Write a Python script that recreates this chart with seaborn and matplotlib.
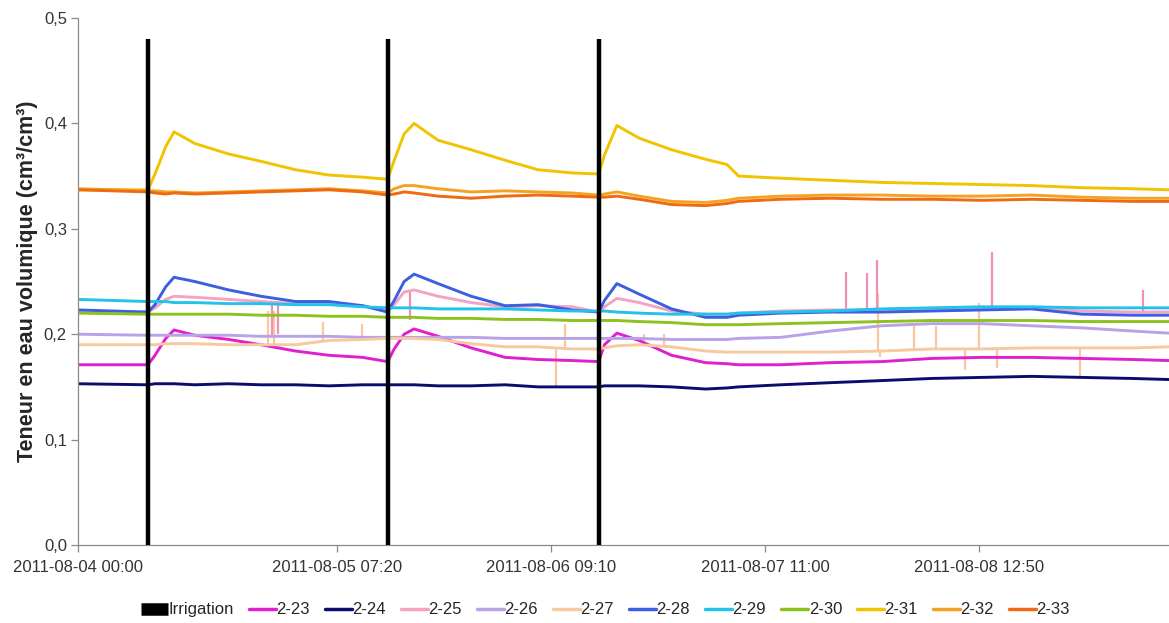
import seaborn as sns
import matplotlib.pyplot as plt
from matplotlib.lines import Line2D
import numpy as np
import pandas as pd

# hours since 2011-08-04 00:00
hours = [0, 8.45, 9.3, 10.6, 11.6, 14.1, 18.2, 22.1, 26.3, 30.3, 34.4,
         37.4, 38.2, 39.4, 40.6, 43.5, 47.5, 51.6, 55.6, 59.7,
         62.9, 63.6, 65.1, 67.8, 71.7, 75.8, 78.4, 79.8, 84.9, 90.9,
         97.1, 103.1, 109.2, 115.2, 121.3, 127.4, 131.8]

s_223 = [.171, .171, .180, .196, .204, .199, .195, .190, .184, .180, .178,
         .174, .186, .200, .205, .198, .187, .178, .176, .175,
         .174, .190, .201, .194, .180, .173, .172, .171, .171, .173,
         .174, .177, .178, .178, .177, .176, .175]
s_224 = [.153, .152, .153, .153, .153, .152, .153, .152, .152, .151, .152,
         .152, .152, .152, .152, .151, .151, .152, .150, .150,
         .150, .151, .151, .151, .150, .148, .149, .150, .152, .154,
         .156, .158, .159, .160, .159, .158, .157]
s_225 = [.221, .221, .225, .233, .236, .235, .233, .231, .229, .229, .227,
         .222, .228, .240, .242, .236, .230, .226, .227, .226,
         .221, .226, .234, .230, .222, .219, .219, .220, .222, .223,
         .223, .224, .224, .225, .222, .221, .221]
s_226 = [.200, .199, .199, .199, .199, .199, .199, .198, .198, .198, .197,
         .197, .197, .197, .197, .197, .197, .196, .196, .196,
         .196, .196, .196, .196, .195, .195, .195, .196, .197, .203,
         .208, .210, .210, .208, .206, .203, .201]
s_227 = [.190, .190, .190, .191, .191, .191, .190, .190, .190, .194, .195,
         .196, .196, .196, .196, .195, .191, .188, .188, .186,
         .186, .187, .189, .190, .188, .184, .183, .183, .183, .183,
         .184, .186, .186, .187, .187, .187, .188]
s_228 = [.223, .221, .228, .245, .254, .250, .242, .236, .231, .231, .227,
         .221, .232, .250, .257, .248, .236, .227, .228, .223,
         .221, .232, .248, .238, .224, .216, .216, .218, .220, .221,
         .221, .222, .223, .224, .219, .218, .218]
s_229 = [.233, .231, .231, .231, .230, .230, .229, .229, .228, .228, .226,
         .225, .225, .225, .225, .224, .224, .224, .223, .222,
         .222, .222, .221, .220, .219, .219, .219, .220, .221, .222,
         .224, .225, .226, .226, .225, .225, .225]
s_230 = [.220, .219, .219, .219, .219, .219, .219, .218, .218, .217, .217,
         .216, .216, .216, .216, .215, .215, .214, .214, .213,
         .213, .213, .213, .212, .211, .209, .209, .209, .210, .211,
         .212, .213, .213, .213, .212, .212, .212]
s_231 = [.337, .337, .352, .378, .392, .381, .371, .364, .356, .351, .349,
         .347, .365, .390, .400, .384, .375, .365, .356, .353,
         .352, .370, .398, .386, .375, .366, .361, .350, .348, .346,
         .344, .343, .342, .341, .339, .338, .337]
s_232 = [.338, .336, .336, .335, .335, .334, .335, .336, .337, .338, .336,
         .334, .338, .341, .341, .338, .335, .336, .335, .334,
         .332, .333, .335, .331, .326, .325, .327, .329, .331, .332,
         .332, .331, .331, .332, .330, .329, .329]
s_233 = [.337, .335, .334, .333, .334, .333, .334, .335, .336, .337, .335,
         .332, .333, .335, .334, .331, .329, .331, .332, .331,
         .330, .330, .331, .328, .323, .322, .324, .326, .328, .329,
         .328, .328, .327, .328, .327, .326, .326]

# isolated spikes: time (h), base value, tip value
spk225_t = [23.4, 24.2, 40.1, 92.8, 95.3, 96.5, 110.4, 128.6]
spk225_lo = [.231, .231, .242, .223, .223, .223, .224, .221]
spk225_hi = [.197, .200, .213, .259, .258, .270, .278, .242]
spk227_t = [22.9, 23.7, 29.6, 34.3, 57.7, 58.8, 68.4, 70.8, 96.7, 96.9,
            101.0, 103.7, 107.1, 108.9, 111.0, 121.1]
spk227_lo = [.190, .190, .194, .195, .188, .187, .190, .189, .184, .184,
             .185, .186, .186, .186, .186, .187]
spk227_hi = [.222, .222, .212, .210, .150, .210, .200, .200, .239, .178,
             .209, .208, .166, .230, .168, .159]

irrig_h = [8.45, 37.4, 62.9]
irrig_top = 0.48

names = ['2-23', '2-24', '2-25', '2-26', '2-27', '2-28',
         '2-29', '2-30', '2-31', '2-32', '2-33']
series = [s_223, s_224, s_225, s_226, s_227, s_228,
          s_229, s_230, s_231, s_232, s_233]
colors = ['#e01fcf', '#0c0c6e', '#f4a3c4', '#b9a2e6', '#f8c89e', '#3b5fe0',
          '#22c3e8', '#8cc21e', '#f0c400', '#f5a223', '#ef6a12']
palette = dict(zip(names, colors))

tick_labels = ['2011-08-04 00:00', '2011-08-05 07:20', '2011-08-06 09:10',
               '2011-08-07 11:00', '2011-08-08 12:50']

start = pd.Timestamp('2011-08-04 00:00')
times = start + pd.to_timedelta(hours, unit='h')

df = pd.concat([pd.DataFrame({'time': times, 'value': v, 'series': n})
                for n, v in zip(names, series)], ignore_index=True)

sns.set_style('white')
plt.rcParams['font.family'] = ['Liberation Sans', 'DejaVu Sans']

fig = plt.figure(figsize=(11.69, 6.23), dpi=100)
ax = fig.add_axes([78 / 1169, 78 / 623, 1 - 78 / 1169, (545 - 18) / 623])

sns.lineplot(data=df, x='time', y='value', hue='series', hue_order=names,
             palette=palette, linewidth=2.1, legend=False, ax=ax,
             estimator=None, sort=True)

ax.vlines(start + pd.to_timedelta(spk227_t, unit='h'), spk227_lo, spk227_hi,
          color=palette['2-27'], lw=1.6, zorder=1.5)
ax.vlines(start + pd.to_timedelta(spk225_t, unit='h'), spk225_lo, spk225_hi,
          color='#f090b8', lw=1.6, zorder=1.5)

ax.vlines(start + pd.to_timedelta(irrig_h, unit='h'), 0, irrig_top,
          color='black', lw=3.2, zorder=5)

ax.set_xlim(start, start + pd.Timedelta(hours=131.8))
ax.set_ylim(0, 0.5)
ax.set_yticks(np.arange(0, 0.51, 0.1))
ax.set_yticklabels([f'{v:.1f}'.replace('.', ',') for v in np.arange(0, 0.51, 0.1)])
ax.set_xticks(pd.to_datetime(tick_labels))
ax.set_xticklabels(tick_labels)

for side in ['top', 'right']:
    ax.spines[side].set_visible(False)
for side in ['left', 'bottom']:
    ax.spines[side].set_color('#8a8a8a')
    ax.spines[side].set_linewidth(0.9)
ax.tick_params(axis='y', direction='out', length=5, width=0.9, color='#8a8a8a',
               labelsize=12, pad=3, left=True, labelcolor='#333333')
ax.tick_params(axis='x', direction='out', length=5, width=0.9, color='#8a8a8a',
               labelsize=12, pad=6, bottom=True, labelcolor='#333333')

ax.set_xlabel('')
ax.set_ylabel('Teneur en eau volumique (cm³/cm³)', fontsize=15.5,
              fontweight='bold', labelpad=4)

handles = [Line2D([], [], color='black', lw=9, solid_capstyle='butt')]
handles += [Line2D([], [], color=c, lw=2.5) for c in colors]
fig.legend(handles, ['Irrigation'] + names, loc='center', ncol=12,
           bbox_to_anchor=(0.518, 0.021), frameon=False, fontsize=12,
           handlelength=1.6, handletextpad=0.05, columnspacing=0.9)

fig.savefig('out.png', dpi=100)
